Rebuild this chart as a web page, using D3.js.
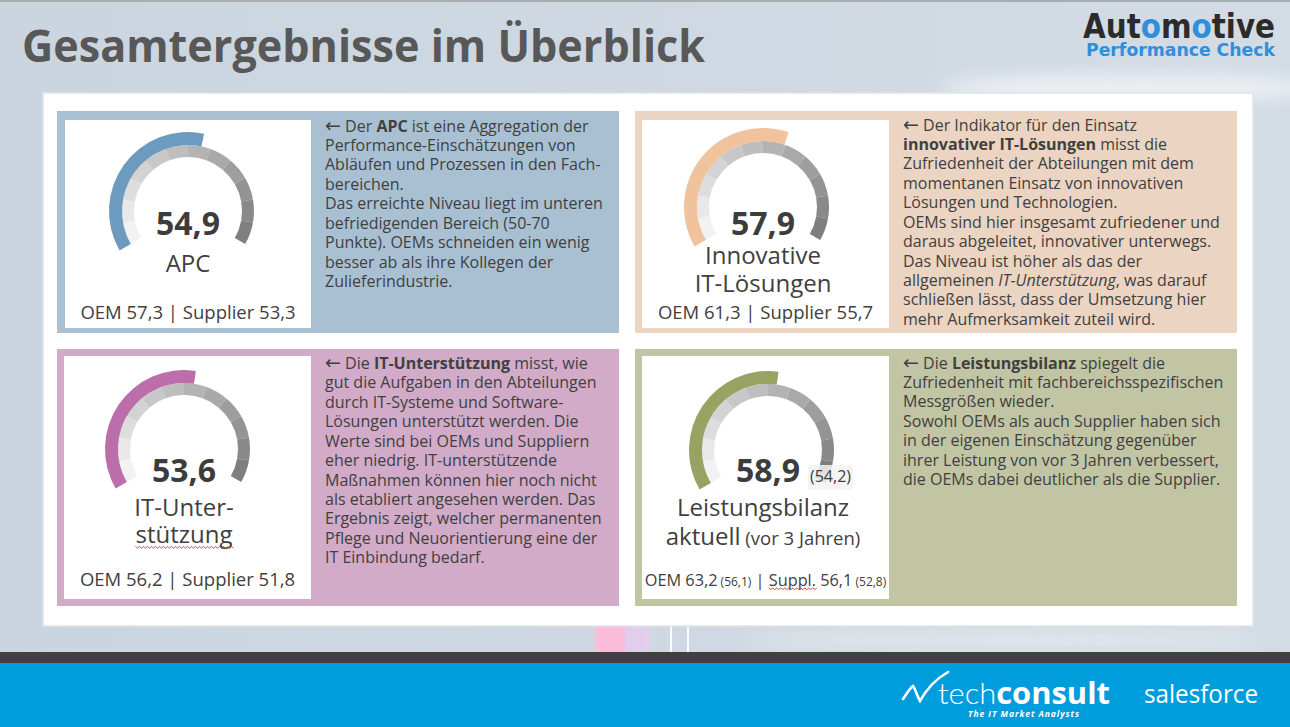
<!DOCTYPE html>
<html>
<head>
<meta charset="utf-8">
<script src="https://cdn.jsdelivr.net/npm/d3@7"></script>
<style>
  html, body { margin: 0; padding: 0; background: #cdd7e1; }
  svg { display: block; font-family: "Open Sans", sans-serif; }
</style>
</head>
<body>
<div id="chart"></div>
<script>
// values
const names = ["APC", "Innovative IT-Lösungen", "IT-Unterstützung", "Leistungsbilanz"];
const scores = [54.9, 57.9, 53.6, 58.9];
// where the coloured arc actually stops (the Leistungsbilanz arc was never updated)
const arcScores = [54.9, 57.9, 53.6, 53.2];
const oemScores = [57.3, 61.3, 56.2, 63.2];
const supplierScores = [53.3, 55.7, 51.8, 56.1];
const prevScores = [null, null, null, 54.2];
const prevOem = [null, null, null, 56.1];
const prevSupplier = [null, null, null, 52.8];
const gaugeDomain = [0, 100];
const segmentCount = 12;

const labelLines = [["APC"], ["Innovative", "IT-Lösungen"], ["IT-Unter-", "stützung"], ["Leistungsbilanz", "aktuell"]];

// **bold**, _italic_, ~ = arrow
const bodyText = [
  ["~ Der **APC** ist eine Aggregation der",
   "Performance-Einschätzungen von",
   "Abläufen und Prozessen in den Fach-",
   "bereichen.",
   "Das erreichte Niveau liegt im unteren",
   "befriedigenden Bereich (50-70",
   "Punkte). OEMs schneiden ein wenig",
   "besser ab als ihre Kollegen der",
   "Zulieferindustrie."],
  ["~ Der Indikator für den Einsatz",
   "**innovativer IT-Lösungen** misst die",
   "Zufriedenheit der Abteilungen mit dem",
   "momentanen Einsatz von innovativen",
   "Lösungen und Technologien.",
   "OEMs sind hier insgesamt zufriedener und",
   "daraus abgeleitet, innovativer unterwegs.",
   "Das Niveau ist höher als das der",
   "allgemeinen _IT-Unterstützung_, was darauf",
   "schließen lässt, dass der Umsetzung hier",
   "mehr Aufmerksamkeit zuteil wird."],
  ["~ Die **IT-Unterstützung** misst, wie",
   "gut die Aufgaben in den Abteilungen",
   "durch IT-Systeme und Software-",
   "Lösungen unterstützt werden. Die",
   "Werte sind bei OEMs und Suppliern",
   "eher niedrig. IT-unterstützende",
   "Maßnahmen können hier noch nicht",
   "als etabliert angesehen werden. Das",
   "Ergebnis zeigt, welcher permanenten",
   "Pflege und Neuorientierung eine der",
   "IT Einbindung bedarf."],
  ["~ Die **Leistungsbilanz** spiegelt die",
   "Zufriedenheit mit fachbereichsspezifischen",
   "Messgrößen wieder.",
   "Sowohl OEMs als auch Supplier haben sich",
   "in der eigenen Einschätzung gegenüber",
   "ihrer Leistung von vor 3 Jahren verbessert,",
   "die OEMs dabei deutlicher als die Supplier."]
];

const panelColors = ["#a9c0d3", "#ebd4c1", "#d2abc8", "#c2c5a4"];
const arcColors = ["#6c9bbf", "#f0c39d", "#bc6eaa", "#98a363"];

// layout of the four boxes
const layout = [
  {px: 57, py: 111, pw: 562, ph: 222, cx: 65, cy: 120, cw: 246, ch: 208, gx: 188, gy: 211, numY: 235, labY: [272], botY: 319, tx: 325, ty: 131.5},
  {px: 635, py: 111, pw: 602, ph: 222, cx: 642, cy: 120, cw: 247, ch: 208, gx: 763, gy: 207, numY: 235, labY: [263.5, 291.5], botY: 319, tx: 903, ty: 130.5},
  {px: 57, py: 349, pw: 562, ph: 257, cx: 64, cy: 356, cw: 247, ch: 243, gx: 184, gy: 449, numY: 481.5, labY: [516, 543], botY: 585.5, tx: 325, ty: 369},
  {px: 635, py: 349, pw: 602, ph: 257, cx: 642, cy: 356, cw: 247, ch: 243, gx: 768, gy: 450, numY: 482, labY: [515.5, 545], botY: 585.5, tx: 903, ty: 368.5}
];

const width = 1290, height = 727;
const de = d3.formatLocale({decimal: ",", thousands: ".", grouping: [3], currency: ["", " €"]});
const fmt = de.format(".1f");
const textColor = "#404040";

const svg = d3.select("#chart").append("svg")
    .attr("width", width)
    .attr("height", height);

const defs = svg.append("defs");
defs.append("filter").attr("id", "blur").attr("x", "-50%").attr("y", "-50%").attr("width", "200%").attr("height", "200%")
  .append("feGaussianBlur").attr("stdDeviation", 8);
defs.append("filter").attr("id", "blur2").attr("x", "-50%").attr("y", "-50%").attr("width", "200%").attr("height", "200%")
  .append("feGaussianBlur").attr("stdDeviation", 2);
const bgGrad = defs.append("linearGradient").attr("id", "bg").attr("x1", 0).attr("x2", 1).attr("y1", 0).attr("y2", 0);
bgGrad.append("stop").attr("offset", 0).attr("stop-color", "#cbd5df");
bgGrad.append("stop").attr("offset", 1).attr("stop-color", "#d3dce5");

// background
svg.append("rect").attr("width", width).attr("height", height).attr("fill", "url(#bg)");
svg.append("rect").attr("width", width).attr("height", 2).attr("fill", "#a9acb0");
svg.append("ellipse").attr("cx", 1130).attr("cy", 88).attr("rx", 190).attr("ry", 14)
    .attr("fill", "#ffffff").attr("opacity", 0.55).attr("filter", "url(#blur)");
svg.append("ellipse").attr("cx", 1000).attr("cy", 640).attr("rx", 260).attr("ry", 8)
    .attr("fill", "#ffffff").attr("opacity", 0.35).attr("filter", "url(#blur)");
// light streaks under the white box
svg.append("rect").attr("x", 595).attr("y", 624).attr("width", 32).attr("height", 30)
    .attr("fill", "#fbbcd8").attr("filter", "url(#blur2)");
svg.append("rect").attr("x", 625).attr("y", 624).attr("width", 26).attr("height", 30)
    .attr("fill", "#e4cdee").attr("opacity", 0.85).attr("filter", "url(#blur2)");
svg.append("rect").attr("x", 670).attr("y", 624).attr("width", 2).attr("height", 30).attr("fill", "#ffffff").attr("opacity", 0.9);
svg.append("rect").attr("x", 687).attr("y", 624).attr("width", 2).attr("height", 30).attr("fill", "#ffffff").attr("opacity", 0.9);

// title
svg.append("text")
    .attr("x", 22).attr("y", 62)
    .attr("font-size", 44).attr("font-weight", 700)
    .attr("fill", "#585858")
    .attr("textLength", 683).attr("lengthAdjust", "spacingAndGlyphs")
    .text("Gesamtergebnisse im Überblick");

// logo top right
const logo = svg.append("text")
    .attr("x", 1083).attr("y", 38)
    .attr("font-family", "DejaVu Sans").attr("font-weight", 700).attr("font-size", 33)
    .attr("fill", "#2b2b2b")
    .attr("textLength", 192).attr("lengthAdjust", "spacingAndGlyphs");
[["Aut", "#2b2b2b"], ["o", "#2f8fdc"], ["m", "#2b2b2b"], ["o", "#2f8fdc"], ["tive", "#2b2b2b"]]
  .forEach(d => logo.append("tspan").attr("fill", d[1]).text(d[0]));
svg.append("text")
    .attr("x", 1086).attr("y", 55.5)
    .attr("font-family", "DejaVu Sans").attr("font-weight", 700).attr("font-size", 17)
    .attr("fill", "#2f8fdc")
    .attr("textLength", 189).attr("lengthAdjust", "spacingAndGlyphs")
    .text("Performance Check");

// white box
svg.append("rect")
    .attr("x", 43).attr("y", 93).attr("width", 1210).attr("height", 533)
    .attr("fill", "#ffffff").attr("stroke", "#dfe3e8").attr("stroke-width", 1.5);

const angle = d3.scaleLinear().domain(gaugeDomain).range([-2 * Math.PI / 3, 2 * Math.PI / 3]);
const segShade = d3.scaleLinear().domain([0, segmentCount - 1]).range(["#f2f2f2", "#7f7f7f"]);
const ringArc = d3.arc().innerRadius(54).outerRadius(66);
const valueArc = d3.arc().innerRadius(66).outerRadius(79);
const segments = d3.range(segmentCount).map(i => ({
  startAngle: angle(gaugeDomain[0] + i * (gaugeDomain[1] - gaugeDomain[0]) / segmentCount),
  endAngle: angle(gaugeDomain[0] + (i + 1) * (gaugeDomain[1] - gaugeDomain[0]) / segmentCount),
  i: i
}));

function squiggle(x0, x1, y) {
  let p = "M" + x0 + "," + y;
  for (let x = x0, k = 0; x < x1; x += 2, k++) {
    p += "L" + (x + 2) + "," + (y + (k % 2 ? 0 : 1.6));
  }
  svg.append("path").attr("d", p).attr("fill", "none").attr("stroke", "#e0302a").attr("stroke-width", 0.9);
}

names.forEach((name, k) => {
  const L = layout[k];
  const g = svg.append("g").attr("class", "panel");

  g.append("rect").attr("x", L.px).attr("y", L.py).attr("width", L.pw).attr("height", L.ph)
      .attr("fill", panelColors[k]);
  g.append("rect").attr("x", L.cx).attr("y", L.cy).attr("width", L.cw).attr("height", L.ch)
      .attr("fill", "#ffffff");

  // gauge
  const gauge = g.append("g").attr("transform", `translate(${L.gx},${L.gy})`);
  gauge.selectAll("path.seg")
    .data(segments)
    .enter()
    .append("path")
    .attr("class", "seg")
    .attr("d", ringArc)
    .attr("fill", d => segShade(d.i));
  gauge.append("path")
    .attr("d", valueArc({startAngle: angle(gaugeDomain[0]), endAngle: angle(arcScores[k])}))
    .attr("fill", arcColors[k]);

  // score
  g.append("text")
      .attr("x", L.gx).attr("y", L.numY)
      .attr("text-anchor", "middle")
      .attr("font-size", 32).attr("font-weight", 700)
      .attr("fill", "#3c3c3c")
      .text(fmt(scores[k]));

  if (prevScores[k] != null) {
    g.append("rect").attr("x", 808).attr("y", L.numY - 17).attr("width", 45).attr("height", 25).attr("rx", 4)
        .attr("fill", "#f2f2f2").attr("opacity", 0.85);
    g.append("text")
        .attr("x", 810).attr("y", L.numY)
        .attr("font-size", 16).attr("fill", textColor)
        .text("(" + fmt(prevScores[k]) + ")");
  }

  // label
  labelLines[k].forEach((line, j) => {
    const t = g.append("text")
        .attr("x", L.gx - (k === 3 ? 5 : 0)).attr("y", L.labY[j])
        .attr("text-anchor", "middle")
        .attr("font-size", 24).attr("fill", textColor);
    t.append("tspan").text(line);
    if (k === 3 && j === 1) {
      t.append("tspan").attr("font-size", 18.5).text(" (vor 3 Jahren)");
    }
    if (k === 2 && j === 1) {
      const b = t.node().getBBox();
      squiggle(b.x, b.x + b.width, L.labY[j] + 3.5);
    }
  });

  // OEM | Supplier line
  const bx = L.cx + L.cw / 2;
  const bot = g.append("text")
      .attr("x", bx).attr("y", L.botY)
      .attr("text-anchor", "middle")
      .attr("fill", textColor);
  if (prevOem[k] == null) {
    bot.attr("font-size", 18.5).text("OEM " + fmt(oemScores[k]) + " | Supplier " + fmt(supplierScores[k]));
  } else {
    bot.attr("font-size", 16.3);
    bot.append("tspan").text("OEM " + fmt(oemScores[k]));
    bot.append("tspan").attr("font-size", 12).text(" (" + fmt(prevOem[k]) + ")");
    bot.append("tspan").text(" | ");
    bot.append("tspan").text("Suppl.");
    bot.append("tspan").text(" " + fmt(supplierScores[k]));
    bot.append("tspan").attr("font-size", 12).text(" (" + fmt(prevSupplier[k]) + ")");
    const full = bot.node();
    const idx = ("OEM " + fmt(oemScores[k]) + " (" + fmt(prevOem[k]) + ") | ").length;
    const x0 = full.getStartPositionOfChar(idx).x;
    const x1 = full.getEndPositionOfChar(idx + 5).x;
    squiggle(x0, x1, L.botY + 2.5);
  }

  // explanation text
  const body = g.append("text")
      .attr("font-size", 16).attr("fill", textColor);
  bodyText[k].forEach((line, j) => {
    const parts = line.split(/(\*\*[^*]+\*\*|_[^_]+_|~)/).filter(s => s.length);
    parts.forEach((p, m) => {
      const ts = body.append("tspan");
      if (m === 0) ts.attr("x", L.tx).attr("y", L.ty + j * 19.43);
      if (p === "~") ts.attr("font-family", "DejaVu Sans").attr("font-size", 19).attr("dy", 0).text("←");
      else if (p.startsWith("**")) ts.attr("font-weight", 700).text(p.slice(2, -2));
      else if (p.startsWith("_")) ts.attr("font-style", "italic").text(p.slice(1, -1));
      else ts.text(p);
    });
  });
});

// footer
svg.append("rect").attr("x", 0).attr("y", 652).attr("width", width).attr("height", 11).attr("fill", "#404040");
svg.append("rect").attr("x", 0).attr("y", 663).attr("width", width).attr("height", 64).attr("fill", "#009ddd");

svg.append("path")
    .attr("d", "M903,699 C907,693 910,688 913,686 C916,690 917,696 920,701 C926,690 936,679 948,672")
    .attr("fill", "none").attr("stroke", "#ffffff").attr("stroke-width", 2.6).attr("stroke-linecap", "round");
const tc = svg.append("text").attr("x", 938).attr("y", 704).attr("font-size", 30).attr("fill", "#ffffff")
    .attr("textLength", 172).attr("lengthAdjust", "spacingAndGlyphs");
tc.append("tspan").attr("font-family", "Lato").attr("font-weight", 300).text("tech");
tc.append("tspan").attr("font-family", "Open Sans").attr("font-weight", 700).text("consult");
svg.append("text").attr("x", 968).attr("y", 717)
    .attr("font-size", 8.5).attr("font-weight", 700).attr("font-style", "italic").attr("fill", "#ffffff")
    .attr("textLength", 111).attr("lengthAdjust", "spacing")
    .text("The IT Market Analysts");
svg.append("text").attr("x", 1144).attr("y", 702.5)
    .attr("font-size", 25).attr("fill", "#ffffff")
    .attr("textLength", 114).attr("lengthAdjust", "spacingAndGlyphs")
    .text("salesforce");
</script>
</body>
</html>
